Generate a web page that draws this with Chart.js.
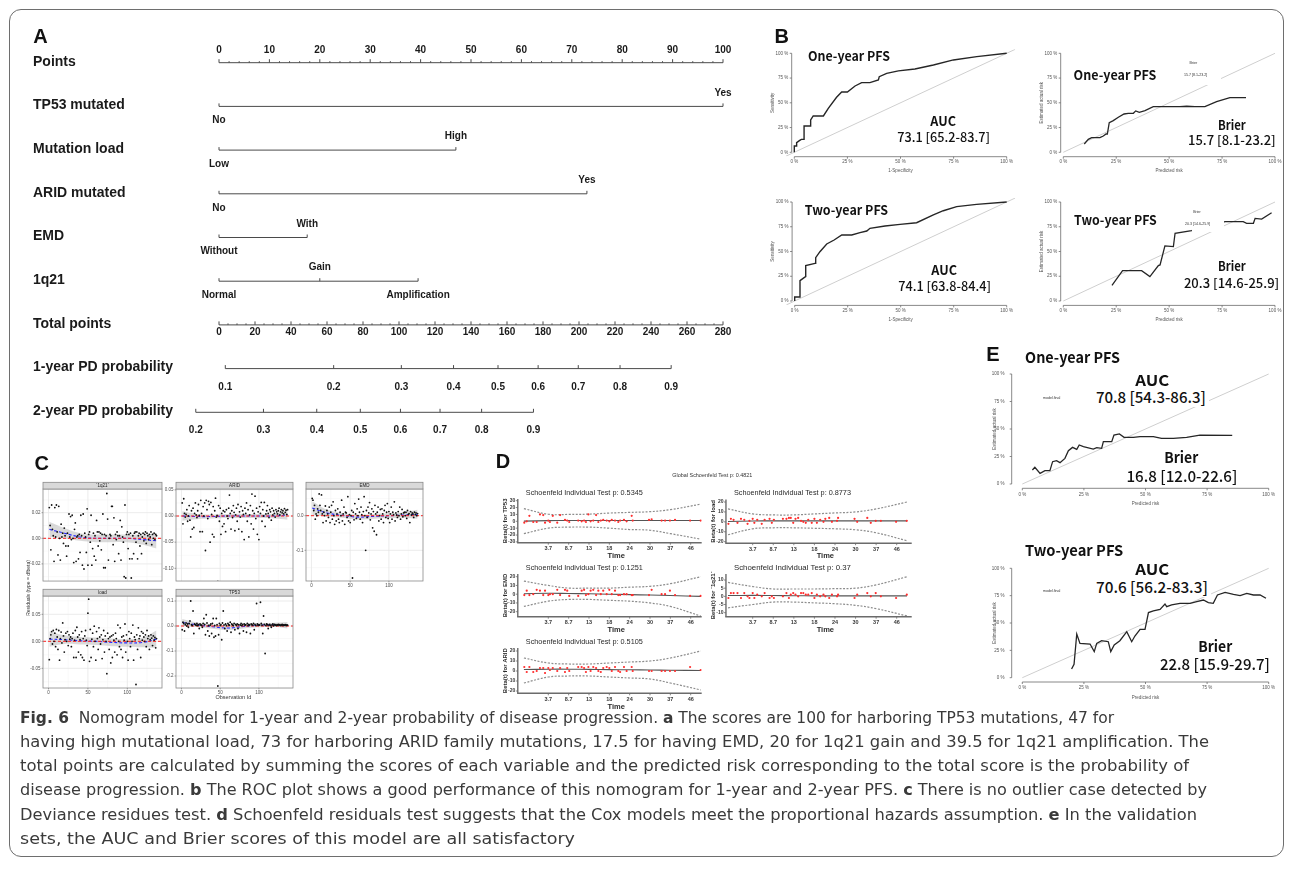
<!DOCTYPE html>
<html><head><meta charset="utf-8"><title>Fig. 6</title>
<script src="https://cdn.jsdelivr.net/npm/chart.js"></script>
<style>
html,body{margin:0;padding:0;background:#fff}
body{position:relative;width:1293px;height:877px;overflow:hidden}
canvas{position:absolute}
#frame{position:absolute;left:9px;top:9px;width:1275px;height:848px;border:1.5px solid #6e6e6e;border-radius:12px;box-sizing:border-box}
.lab{position:absolute;white-space:nowrap;line-height:1}
</style></head><body>
<div id="frame"></div>
<script>
// ================= DATA =================
// ---- Panel A: nomogram ----
const rowNames = ['Points','TP53 mutated','Mutation load','ARID mutated','EMD','1q21','Total points','1-year PD probability','2-year PD probability'];
const pointsTicks = [0,10,20,30,40,50,60,70,80,90,100];
const tp53Levels = ['No','Yes'];                   const tp53Pts = [0,100];
const loadLevels = ['Low','High'];                 const loadPts = [0,47];
const aridLevels = ['No','Yes'];                   const aridPts = [0,73];
const emdLevels  = ['Without','With'];             const emdPts  = [0,17.5];
const q21Levels  = ['Normal','Gain','Amplification']; const q21Pts = [0,20,39.5];
const totalTicks = [0,20,40,60,80,100,120,140,160,180,200,220,240,260,280];
const totalMax = 280;
const pd1Labels = ['0.1','0.2','0.3','0.4','0.5','0.6','0.7','0.8','0.9'];
const pd1Total  = [3.5,63.7,101.3,130.3,155,177.3,199.6,222.8,251.2];
const pd2Labels = ['0.2','0.3','0.4','0.5','0.6','0.7','0.8','0.9'];
const pd2Total  = [-12.9,24.7,54.3,78.5,100.8,122.8,145.9,174.7];

// ---- Panel B: ROC and calibration (percent) ----
const pctTicks = [0,25,50,75,100];
const pctLabels = ['0 %','25 %','50 %','75 %','100 %'];
const roc1FPR = [0,0,1.1,1.1,2.4,3.3,4.6,4.6,7.7,7.7,8.9,13.7,16,19.9,22.3,25,28.6,31.7,35.6,39.6,40,43.5,49,56.8,65.5,74.9,85.9,100];
const roc1TPR = [0,6.4,6.4,9.8,11.8,13.1,13.1,26.6,26.6,32.7,36.7,36.7,44.4,55.6,60.9,60.9,67,70.4,70.4,73.1,76.4,79.8,82.2,84.2,88.2,93.3,96.6,100];
const roc2FPR = [0,0,2.5,2.5,4.6,5.2,5.2,9.6,9.9,11.9,15.1,18.6,22.2,26.9,30.8,34,35.5,42.6,49.7,57.5,65.4,70.1,76.4,85.8,100];
const roc2TPR = [0,4,4,20.5,23.9,24.6,35.7,38,43.8,49.8,57.6,61.6,66.7,66.7,69,70.7,73.4,75.8,77.4,79.1,86.9,91.2,95.3,97.6,100];
const cal1Pred = [9.9,11.8,13.4,17.3,18.9,20.2,20.8,21.7,23.6,26,28.7,30.7,33.1,34.2,35.9,38.6,42.5,47.2,55.1,58.3,62.2,66.9,72.4,78.7,86.3];
const cal1Obs  = [8.4,13.1,14.8,14.8,16.5,18.5,18.5,30,32,35.4,38.7,39.4,39.4,41.8,40.4,42.1,46.1,46.1,46.1,46.5,46.1,46.1,51.2,55.2,55.2];
const cal2Pred = [23,28,37,40.9,44.9,45.7,48,52,52.8,60.6,76.4,85,86.6,89.8,90.6,93.7,98.4];
const cal2Obs  = [15.8,30.6,30.6,24.6,35.7,36.4,55.6,54.9,68.4,71,80.1,80.1,78.5,78.5,83.5,82.8,89.2];
const bTexts = {auc1:'73.1 [65.2-83.7]', brier1:'15.7 [8.1-23.2]', auc2:'74.1 [63.8-84.4]', brier2:'20.3 [14.6-25.9]'};

// ---- Panel E: validation calibration (percent) ----
const ev1Pred = [4.1,5.1,7.2,9.2,11.2,12.3,13.9,15.3,17.3,18.7,20.4,22.1,23.1,24.8,28.8,30.2,32.2,32.9,36.3,37.2,39.4,41.3,45.1,47.8,53.2,56.5,61.3,66.7,72.1,85.2];
const ev1Obs  = [12.7,15.2,9.7,12.1,12.1,20.3,21.2,19.4,23.3,30.3,33.3,31.5,35.5,33.9,31.8,33,32.4,38.5,38.5,44.5,45.5,42.4,42.4,43,43,41.5,41.5,42.4,44.5,44.2];
const ev2Pred = [20,21,22.1,23.4,27.5,29.2,30.2,32.2,34.9,35.9,37.3,39.6,42.4,44.4,45.7,47.8,49.8,51.2,53.2,55.9,57.9,58.6,60.6,64,68.1,70.8,73.5,75.5,77.5,79.2,82.3,85.7,88.4,91.1,93.8,96.5,98.9];
const ev2Obs  = [7.9,12.2,39.9,31.4,30.8,23.8,31.4,33.8,32.9,23.8,29.9,33.8,42.1,32.9,38.1,44.2,44.2,59.5,61,62.5,67.4,64.9,66.5,68,68,69.5,71,68.6,68,75.6,78,76.2,75,77.1,75.6,75.6,72.6];
const eTexts = {auc1:'70.8 [54.3-86.3]', brier1:'16.8 [12.0-22.6]', auc2:'70.6 [56.2-83.3]', brier2:'22.8 [15.9-29.7]'};

// ---- Panel C: dfbeta residuals by observation id ----
const res1q21 = [0.024,0.010,-0.009,0.026,0.007,0.002,-0.018,0.024,0.001,0.026, 0.005,-0.013,0.025,0.000,-0.017,0.011,0.001,0.004,-0.004,0.008, 0.002,-0.006,-0.014,0.004,-0.006,0.019,0.001,0.017,-0.001,0.018, 0.000,-0.019,0.007,0.012,-0.018,0.001,0.002,-0.016,0.003,-0.011, 0.018,0.002,-0.021,0.019,-0.024,0.004,0.001,-0.011,0.023,-0.021, 0.003,0.005,-0.003,0.018,-0.021,-0.008,0.004,-0.014,0.002,-0.017, 0.014,0.005,-0.006,0.005,-0.002,0.004,-0.009,0.003,0.019,-0.023, 0.003,-0.023,0.002,0.035,0.015,-0.017,0.000,0.003,0.002,0.025, 0.025,-0.005,0.016,-0.018,0.003,-0.001,0.005,0.002,-0.012,0.002, 0.014,-0.017,0.009,0.001,-0.003,-0.030,0.026,-0.031,0.003,0.005, -0.008,0.003,-0.016,0.004,-0.031,-0.016,0.002,-0.012,0.004,0.005, -0.003,0.005,-0.016,0.002,0.004,-0.006,0.003,-0.012,0.001,0.004, -0.002,0.003,0.005,-0.004,0.004,0.002,-0.001,0.003,0.001,0.005, -0.005,0.003,0.000,0.004,-0.001,0.003,0.002];
const resARID = [0.025,-0.015,0.033,0.005,-0.002,0.003,0.012,-0.010,0.000,0.020, -0.008,-0.040,0.010,-0.025,0.015,-0.022,0.005,0.025,0.002,-0.003, 0.010,0.022,0.001,-0.030,0.030,0.005,-0.030,0.018,0.000,0.025, -0.066,0.030,0.012,-0.005,0.028,0.022,-0.050,0.026,0.003,-0.035, 0.018,-0.040,0.010,0.034,-0.002,0.001,-0.125,0.020,-0.010,0.015, -0.035,0.005,-0.020,0.010,-0.015,0.008,-0.030,0.012,0.000,-0.005, 0.015,0.040,0.005,-0.025,0.010,-0.003,0.020,0.007,-0.028,0.002, 0.015,-0.010,0.022,-0.025,0.008,-0.002,0.018,-0.030,0.010,0.003, -0.045,0.015,0.005,0.025,-0.010,0.012,-0.040,0.002,0.020,-0.015, 0.042,0.010,-0.025,0.005,0.038,-0.005,0.015,-0.035,0.008,-0.045, 0.018,0.005,0.026,-0.010,0.012,0.000,0.026,-0.020,0.004,0.010, 0.020,0.005,-0.003,0.012,0.008,-0.008,0.015,0.002,0.010,0.005, -0.002,0.012,0.008,0.004,0.010,0.015,0.002,0.008,0.012,0.006, 0.010,0.004,0.014,0.007,0.011,0.003,0.012];
const resEMD = [0.050,0.045,0.015,0.030,-0.010,0.005,0.000,0.020,0.010,0.063, 0.030,0.015,0.060,0.005,-0.020,0.010,0.000,0.028,-0.015,0.015, 0.005,-0.005,0.025,-0.020,0.010,0.030,-0.010,0.040,0.000,-0.025, 0.015,-0.015,0.005,0.020,-0.010,-0.020,0.010,0.000,0.045,-0.015, 0.005,0.025,-0.025,0.010,0.008,-0.005,0.055,-0.015,0.003,-0.020, 0.000,0.015,-0.180,0.010,-0.012,0.035,0.005,-0.008,0.020,0.000, 0.048,0.010,-0.010,0.025,0.003,-0.020,0.012,0.055,0.000,-0.100, 0.015,-0.005,0.025,0.008,0.038,-0.012,0.005,0.020,-0.035,0.012, -0.045,0.030,0.005,-0.055,0.010,0.025,-0.015,0.000,0.018,-0.010, 0.020,0.005,-0.020,0.015,0.030,-0.005,0.010,0.035,-0.008,0.012, -0.020,0.005,0.025,-0.010,0.010,0.003,0.040,-0.015,0.008,0.002, -0.005,0.012,0.000,0.025,-0.010,0.005,0.018,-0.003,0.008,0.010, 0.000,0.010,-0.008,0.015,0.004,0.006,-0.020,0.012,0.002,0.008, 0.005,-0.005,0.010,0.003,0.008,0.000,0.006];
const resLoad = [-0.034,0.005,0.012,0.018,-0.005,0.020,0.000,0.015,-0.010,0.022, 0.008,-0.015,0.020,-0.035,0.005,0.017,-0.003,0.034,0.010,-0.020, 0.003,0.015,0.000,0.018,-0.008,0.012,0.004,0.008,-0.010,0.005, 0.015,-0.030,0.002,0.020,-0.030,0.026,0.008,-0.020,0.012,0.003, -0.025,0.018,-0.030,0.005,-0.035,0.010,0.020,0.002,-0.008,0.052, 0.078,-0.037,0.022,-0.030,0.004,0.015,-0.010,0.028,0.000,-0.035, 0.018,0.005,-0.015,0.025,0.008,-0.005,0.012,-0.032,0.003,0.020, -0.020,0.010,0.000,-0.060,0.015,0.005,-0.015,0.008,-0.040,0.010, -0.030,0.012,0.002,-0.020,0.015,0.005,-0.025,0.030,0.000,-0.010, 0.025,-0.015,0.008,-0.030,0.010,0.002,0.032,-0.020,0.012,0.000, -0.035,0.018,0.005,-0.010,0.015,0.000,0.030,-0.035,0.008,0.003, -0.080,0.012,-0.015,0.025,0.005,0.010,-0.030,0.018,0.002,0.015, 0.008,0.000,0.012,-0.010,0.020,0.005,0.010,-0.015,0.003,0.012, 0.006,-0.008,0.010,0.002,0.007,-0.012,0.005];
const resTP53 = [-0.015,0.015,0.010,-0.020,0.005,0.012,0.000,0.008,-0.005,0.010, 0.020,0.100,0.005,0.002,0.060,-0.030,0.008,0.005,0.003,0.010, 0.002,0.005,-0.010,0.008,0.004,0.003,-0.005,0.010,0.030,0.006, -0.035,0.045,0.012,-0.020,0.002,-0.040,0.003,0.008,-0.030,0.010, 0.030,-0.045,0.002,-0.040,0.030,0.005,-0.240,-0.035,0.010,0.002, 0.005,-0.055,0.012,0.060,0.004,-0.010,0.008,0.002,-0.020,0.010, 0.005,0.003,0.015,-0.025,0.008,0.004,0.002,0.010,-0.015,0.006, 0.003,0.008,-0.010,0.005,-0.030,0.004,0.010,0.002,0.006,-0.020, 0.008,0.003,0.005,-0.025,0.010,0.002,0.006,0.004,-0.030,0.008, 0.005,0.003,0.010,-0.015,0.006,0.002,0.090,0.008,0.003,0.005, 0.004,0.095,0.010,0.003,-0.030,0.040,0.006,-0.110,0.002,0.008, 0.005,-0.010,0.003,0.006,0.002,-0.005,0.004,0.008,0.001,0.006, 0.003,0.005,0.002,0.004,0.006,0.003,0.005,0.002,0.004,0.006, 0.002,0.004,0.003,0.005,0.002,0.004,0.003];
const loessX = [1,20,40,60,80,100,120,137];
const fit1q21 = [0.007,0.004,0.001,0.000,0.000,0.000,-0.001,-0.002];
const lo1q21  = [0.001,0.000,-0.002,-0.003,-0.003,-0.003,-0.005,-0.008];
const hi1q21  = [0.013,0.008,0.004,0.003,0.003,0.003,0.003,0.004];
const fitARID = [0.000,-0.001,-0.001,0.000,0.000,0.000,0.000,0.002];
const loARID  = [-0.009,-0.006,-0.005,-0.004,-0.004,-0.004,-0.005,-0.007];
const hiARID  = [0.009,0.004,0.003,0.004,0.004,0.004,0.005,0.011];
const fitEMD  = [0.022,0.008,0.001,-0.004,-0.002,0.000,0.002,0.004];
const loEMD   = [0.002,-0.002,-0.006,-0.011,-0.009,-0.007,-0.006,-0.009];
const hiEMD   = [0.042,0.018,0.008,0.003,0.005,0.007,0.010,0.017];
const fitLoad = [0.004,0.003,0.001,0.000,-0.002,-0.003,-0.002,0.004];
const loLoad  = [-0.010,-0.005,-0.006,-0.007,-0.009,-0.010,-0.011,-0.012];
const hiLoad  = [0.018,0.011,0.008,0.007,0.005,0.004,0.007,0.020];
const fitTP53 = [0.014,0.005,-0.003,-0.008,-0.002,0.003,0.005,0.003];
const loTP53  = [0.000,-0.004,-0.011,-0.016,-0.010,-0.005,-0.003,-0.010];
const hiTP53  = [0.028,0.014,0.005,0.000,0.006,0.011,0.013,0.016];

// ---- Panel D: Schoenfeld residuals ----
const dTimeIdx = [1,2,3,4,5,6,7,8];
const dTimeLabels = ['3.7','8.7','13','18','24','30','37','46'];
const dEventIdx = [-0.18,-0.06,0.07,0.26,0.43,0.59,0.75,0.84,1.0,1.08,1.22,1.44,1.58,1.82,1.93,2.03,2.47,2.64,2.76,2.85,2.97,3.08,3.21,3.35,3.46,3.58,3.7,3.87,4.0,4.12,4.28,4.44,4.53,4.72,4.85,5.1,5.15,5.95,6.08,6.57,6.74,6.98,7.23,7.97,8.49];
const schTP53 = [-2,0,8,-1,-1,10,9,-2,1,-1, 8,-2,9,2,1,-1,1,0,1,-1, 10,0,1,9,-1,1,2,1,0,2, 1,-1,1,2,0,8,1,2,3,1, 1,1,2,1,1];
const schLoad = [-2,3,2,-1,3,2,-2,1,3,-1, 2,-2,2,3,-1,2,3,3,4,4, -1,3,4,1,0,-1,2,-1,3,-1, 2,0,3,4,0,1,4,3,0,4, -1,1,1,0,1];
const schEMD  = [-1,4,-1,0,5,4,-1,4,-1,0, 0,5,-1,5,4,-2,-2,4,5,-1, 0,4,5,-1,4,0,4,0,5,0, 4,-1,-1,0,0,-1,-1,-1,5,0, 0,4,-1,-2,-2];
const sch1q21 = [-1,2,2,2,-1,2,0,-1,2,-1, 1,0,2,-1,0,-1,0,2,-1,1, 2,1,0,2,2,1,1,2,-1,1, 0,1,0,-1,1,0,1,-1,1,2, 0,2,0,-1,1];
const schARID = [4,-1,4,-1,0,3,3,-2,3,1, 3,0,3,-1,3,0,4,4,3,-1, 4,0,4,3,0,-1,3,4,3,0, 4,0,-1,4,0,4,0,0,0,0, 0,0,0,4,1];
const dBandIdx = [-0.2,1,2,3,4,5,6,7,8.5];
const bTP53up = [18.4,10.3,10,10.5,12,13,14,17,25],  bTP53lo = [-18,-10,-8.5,-8.5,-10,-12,-13,-18,-26],  bTP53fit = [0.3,1,1.2,1.2,1.2,1.2,1.2,1.2,1.2];
const bLoadUp = [13,8,7,7,8,9,10,13,20],           bLoadLo = [-13,-7,-6,-6,-6.5,-7,-8,-11,-19],        bLoadFit = [0.3,0.8,1,1,1,1,1,1,1];
const bEMDup  = [15,10,7,7,7,8,9,12,20],           bEMDlo  = [-14,-8,-6,-6,-7,-8,-10,-14,-25],         bEMDfit  = [0.5,1,0.8,0.5,0,-0.5,-1,-1.5,-2.5];
const b1q21up = [8.5,6,4.5,4.5,4.5,4.7,5,7,12],    b1q21lo = [-7,-5,-3.5,-3.5,-4,-4.5,-5.5,-7.5,-12],  b1q21fit = [0.5,0.6,0.5,0.4,0.3,0.3,0.3,0.3,0.3];
const bARIDup = [13,8,7,7,8,9,10,13,20],           bARIDlo = [-12,-6,-5,-5,-6,-7,-8,-12,-19],          bARIDfit = [1.5,1.8,1.8,1.6,1.4,1.2,1,0.8,0.5];
const dPvals = {TP53:'0.5345', load:'0.8773', EMD:'0.1251', q21:'0.37', ARID:'0.5105', global:'0.4821'};

// ================= HELPERS =================
const SANS = '"Liberation Sans", Arial, Helvetica, sans-serif';
const CJK = '"Noto Sans CJK SC", "Noto Sans", sans-serif';
const xy = (xs, ys) => xs.map((x, i) => ({x: x, y: ys[i]}));
const L_ = (pts, color, w, dash, extra) => Object.assign({data: pts, showLine: true, pointRadius: 0, borderColor: color, borderWidth: w, borderDash: dash || [], fill: false, tension: 0}, extra || {});
const P_ = (pts, color, r) => ({data: pts, showLine: false, pointRadius: r, pointBackgroundColor: color, pointBorderWidth: 0, borderColor: color, backgroundColor: color});

function ctext(ctx, s, x, y, font, color, align, base, rot, w) {
  ctx.save(); ctx.font = font; ctx.fillStyle = color || '#000';
  ctx.textAlign = align || 'center'; ctx.textBaseline = base || 'middle';
  ctx.translate(x, y); if (rot) ctx.rotate(rot);
  if (w) { const m = ctx.measureText(s).width; if (m > 0) ctx.scale(w / m, 1); }
  ctx.fillText(s, 0, 0); ctx.restore();
}
function seg(ctx, x1, y1, x2, y2) { ctx.beginPath(); ctx.moveTo(x1, y1); ctx.lineTo(x2, y2); ctx.stroke(); }

function mk(box, xm, ym, datasets, hooks) {
  const c = document.createElement('canvas');
  c.width = box[2]; c.height = box[3];
  c.style.left = box[0] + 'px'; c.style.top = box[1] + 'px';
  c.style.width = box[2] + 'px'; c.style.height = box[3] + 'px';
  document.body.appendChild(c);
  const kx = (xm.p1 - xm.p0) / (xm.v1 - xm.v0), ky = (ym.p1 - ym.p0) / (ym.v1 - ym.v0);
  const L = xm.p0 + (xm.min - xm.v0) * kx, R = xm.p0 + (xm.max - xm.v0) * kx;
  const rev = ky > 0;
  const T = ym.p0 + ((rev ? ym.min : ym.max) - ym.v0) * ky, B = ym.p0 + ((rev ? ym.max : ym.min) - ym.v0) * ky;
  const pad = {left: L - box[0], right: box[0] + box[2] - R, top: T - box[1], bottom: box[1] + box[3] - B};
  const call = (name) => function (ch) {
    if (!hooks || !hooks[name]) return;
    const X = v => ch.scales.x.getPixelForValue(v), Y = v => ch.scales.y.getPixelForValue(v);
    const ctx = ch.ctx; ctx.save(); hooks[name](ch, ctx, X, Y); ctx.restore();
  };
  return new Chart(c, {
    type: 'scatter', data: {datasets: datasets},
    options: {
      responsive: false, maintainAspectRatio: false, animation: false, devicePixelRatio: 1, events: [],
      layout: {padding: pad},
      scales: {x: {type: 'linear', display: false, min: xm.min, max: xm.max},
               y: {type: 'linear', display: false, min: ym.min, max: ym.max, reverse: rev}},
      plugins: {legend: {display: false}, tooltip: {enabled: false}}
    },
    plugins: [{id: 'deco', beforeDatasetsDraw: call('before'), afterDatasetsDraw: call('after')}]
  });
}

function lab(html, x, y, o) {
  const d = document.createElement('div'); d.className = 'lab'; d.innerHTML = html;
  d.style.font = o.font; d.style.color = o.color || '#111';
  if (o.bg) { d.style.background = o.bg; d.style.padding = '0 3px'; }
  document.body.appendChild(d);
  const r = d.getBoundingClientRect();
  const sx = o.w ? o.w / r.width : 1;
  if (o.anchor === 'l') { d.style.left = x + 'px'; d.style.transformOrigin = '0 50%'; }
  else { d.style.left = (x - r.width / 2) + 'px'; d.style.transformOrigin = '50% 50%'; }
  d.style.top = (y - r.height / 2 + (o.dy || 0)) + 'px';
  d.style.transform = 'scaleX(' + sx + ')';
  return d;
}

// ================= PANEL A =================
const nomoVars = [
  {row: 1, levels: tp53Levels, pts: tp53Pts},
  {row: 2, levels: loadLevels, pts: loadPts},
  {row: 3, levels: aridLevels, pts: aridPts},
  {row: 4, levels: emdLevels, pts: emdPts},
  {row: 5, levels: q21Levels, pts: q21Pts}
];
const ptsMax = pointsTicks[pointsTicks.length - 1];
const tot2pts = t => t * ptsMax / totalMax;
const span = (xs, row) => [{x: Math.min(...xs), y: row}, {x: Math.max(...xs), y: row}];
const NOMO_C = '#4a4a4a';
const nomoSets = [
  L_(span(pointsTicks, 0), NOMO_C, 1),
  ...nomoVars.map(v => L_(span(v.pts, v.row), NOMO_C, 1)),
  L_(span(totalTicks.map(tot2pts), 6), NOMO_C, 1),
  L_(span(pd1Total.map(tot2pts), 7), NOMO_C, 1),
  L_(span(pd2Total.map(tot2pts), 8), NOMO_C, 1)
];
mk([0, 0, 760, 440], {v0: 0, p0: 219, v1: 100, p1: 723, min: -10, max: 105},
   {v0: 0, p0: 62.7, v1: 8, p1: 412.3, min: -0.5, max: 8.5}, nomoSets, {
  after(ch, ctx, X, Y) {
    ctx.strokeStyle = NOMO_C; ctx.lineWidth = 1;
    const TF = 'bold 10px ' + SANS, LF = 'bold 14px ' + SANS, TC = '#1a1a1a';
    rowNames.forEach((n, i) => ctext(ctx, n, 33, Y(i) - 1, LF, TC, 'left'));
    for (let v = pointsTicks[0]; v <= ptsMax; v += 2) {
      const major = pointsTicks.includes(v);
      seg(ctx, X(v), Y(0), X(v), Y(0) - (major ? 3.5 : 1.5));
    }
    pointsTicks.forEach(v => ctext(ctx, String(v), X(v), Y(0) - 12.5, TF, TC));
    nomoVars.forEach(vr => {
      vr.pts.forEach((p, i) => {
        seg(ctx, X(p), Y(vr.row), X(p), Y(vr.row) - 3);
        const above = i % 2 === 1;
        ctext(ctx, vr.levels[i], X(p), Y(vr.row) + (above ? -13.5 : 14), TF, TC);
      });
    });
    for (let t = 0; t <= totalMax; t += 5) {
      const major = totalTicks.includes(t);
      seg(ctx, X(tot2pts(t)), Y(6), X(tot2pts(t)), Y(6) - (major ? 3.5 : 1.5));
    }
    totalTicks.forEach(t => ctext(ctx, String(t), X(tot2pts(t)), Y(6) + 7, TF, TC));
    pd1Total.forEach((t, i) => { seg(ctx, X(tot2pts(t)), Y(7), X(tot2pts(t)), Y(7) - 3.5); ctext(ctx, pd1Labels[i], X(tot2pts(t)), Y(7) + 18.5, TF, TC); });
    pd2Total.forEach((t, i) => { seg(ctx, X(tot2pts(t)), Y(8), X(tot2pts(t)), Y(8) - 3.5); ctext(ctx, pd2Labels[i], X(tot2pts(t)), Y(8) + 17.7, TF, TC); });
  }
});

// ================= PANELS B & E =================
function rAxes(ctx, X, Y, o) {
  const ax = X(0) - o.yOff, ay = Y(0) + o.xOff;
  const F = o.fs + 'px ' + SANS;
  ctx.strokeStyle = '#6a6a6a'; ctx.lineWidth = 0.8;
  seg(ctx, ax, Y(0), ax, Y(100)); seg(ctx, X(0), ay, X(100), ay);
  pctTicks.forEach((v, i) => {
    seg(ctx, ax, Y(v), ax - 2, Y(v)); seg(ctx, X(v), ay, X(v), ay + 2);
    ctext(ctx, pctLabels[i], ax - o.ylGap, Y(v), F, '#555', 'right');
    ctext(ctx, pctLabels[i], X(v), ay + o.xlGap, F, '#555');
  });
  ctext(ctx, o.yt, ax - o.ytGap, Y(50), F, '#555', 'center', 'middle', -Math.PI / 2);
  ctext(ctx, o.xt, X(50), ay + o.xtGap, F, '#555');
}
const bAx = {yOff: 2.6, xOff: 4.4, fs: 4.5, ylGap: 3.5, xlGap: 5.5, ytGap: 19, xtGap: 14.5};
const eAx = {yOff: 10.6, xOff: 4.3, fs: 4.5, ylGap: 7.2, xlGap: 6, ytGap: 16.7, xtGap: 15.7};
const DIAG = '#cfcfcf', CURVE = '#262626';
function legendBox(ctx, x0, y0, x1, y1, lines) {
  ctx.fillStyle = '#fff'; ctx.fillRect(x0, y0, x1 - x0, y1 - y0);
  lines.forEach(l => ctext(ctx, l[0], l[1], l[2], '3.6px ' + SANS, '#333'));
}
mk([765, 40, 255, 140], {v0: 0, p0: 794.3, v1: 100, p1: 1006.7, min: -4, max: 104},
   {v0: 0, p0: 152.3, v1: 100, p1: 53.3, min: -4, max: 104},
   [L_(xy(roc1FPR, roc1TPR), CURVE, 1.4), L_([{x: -4, y: -4}, {x: 104, y: 104}], DIAG, 1)],
   {before(ch, ctx, X, Y) { rAxes(ctx, X, Y, Object.assign({yt: 'Sensitivity', xt: '1-Specificity'}, bAx)); }});
mk([1030, 40, 255, 140], {v0: 0, p0: 1063.3, v1: 100, p1: 1275, min: -4, max: 104},
   {v0: 0, p0: 152.3, v1: 100, p1: 53.3, min: -4, max: 104},
   [L_(xy(cal1Pred, cal1Obs), CURVE, 1.3), L_([{x: 0, y: 0}, {x: 100, y: 100}], DIAG, 1)],
   {before(ch, ctx, X, Y) { rAxes(ctx, X, Y, Object.assign({yt: 'Estimated actual risk', xt: 'Predicted risk'}, bAx)); },
    after(ch, ctx, X, Y) { legendBox(ctx, 1180 - 1030, 57 - 40, 1221 - 1030, 85 - 40, [['Brier', 1193.3 - 1030, 62.7 - 40], [bTexts.brier1, 1195.7 - 1030, 75.3 - 40]]); }});
mk([765, 190, 255, 140], {v0: 0, p0: 794.7, v1: 100, p1: 1006.7, min: -4, max: 104},
   {v0: 0, p0: 301, v1: 100, p1: 202, min: -4, max: 104},
   [L_(xy(roc2FPR, roc2TPR), CURVE, 1.4), L_([{x: -4, y: -4}, {x: 104, y: 104}], DIAG, 1)],
   {before(ch, ctx, X, Y) { rAxes(ctx, X, Y, Object.assign({yt: 'Sensitivity', xt: '1-Specificity'}, bAx)); }});
mk([1030, 190, 255, 140], {v0: 0, p0: 1063.3, v1: 100, p1: 1275, min: -4, max: 104},
   {v0: 0, p0: 301, v1: 100, p1: 202, min: -4, max: 104},
   [L_(xy(cal2Pred, cal2Obs), CURVE, 1.3), L_([{x: 0, y: 0}, {x: 100, y: 100}], DIAG, 1)],
   {before(ch, ctx, X, Y) { rAxes(ctx, X, Y, Object.assign({yt: 'Estimated actual risk', xt: 'Predicted risk'}, bAx)); },
    after(ch, ctx, X, Y) { legendBox(ctx, 1192 - 1030, 205 - 190, 1224 - 1030, 232 - 190, [['Brier', 1197 - 1030, 212 - 190], [bTexts.brier2, 1197.7 - 1030, 224 - 190]]); }});
mk([985, 365, 295, 145], {v0: 0, p0: 1022.3, v1: 100, p1: 1268.7, min: -4, max: 104},
   {v0: 0, p0: 484, v1: 100, p1: 374, min: -4, max: 104},
   [L_(xy(ev1Pred, ev1Obs), CURVE, 1.3), L_([{x: 0, y: 0}, {x: 100, y: 100}], DIAG, 1)],
   {before(ch, ctx, X, Y) { rAxes(ctx, X, Y, Object.assign({yt: 'Estimated actual risk', xt: 'Predicted risk'}, eAx)); },
    after(ch, ctx, X, Y) { ctext(ctx, 'model.final', 1051.7 - 985, 398.3 - 365, '3.6px ' + SANS, '#333'); }});
mk([985, 560, 295, 145], {v0: 0, p0: 1022.3, v1: 100, p1: 1268.7, min: -4, max: 104},
   {v0: 0, p0: 677.7, v1: 100, p1: 568.3, min: -4, max: 104},
   [L_(xy(ev2Pred, ev2Obs), CURVE, 1.3), L_([{x: 0, y: 0}, {x: 100, y: 100}], DIAG, 1)],
   {before(ch, ctx, X, Y) { rAxes(ctx, X, Y, Object.assign({yt: 'Estimated actual risk', xt: 'Predicted risk'}, eAx)); },
    after(ch, ctx, X, Y) { ctext(ctx, 'model.final', 1051.7 - 985, 591 - 560, '3.6px ' + SANS, '#333'); }});

// ================= PANEL C =================
const obs = arr => arr.map((v, i) => ({x: i + 1, y: v}));
const cX = {min: -7, max: 144, ticks: [0, 50, 100], minor: [25, 75, 125]};
function facet(cfg) {
  const a = cfg.area;
  const box = [a[0] - 24, a[1] - 9, (a[2] - a[0]) + 28, (a[3] - a[1]) + 22];
  mk(box, {v0: cX.min, p0: a[0], v1: cX.max, p1: a[2], min: cX.min, max: cX.max},
     {v0: cfg.y0[0], p0: cfg.y0[1], v1: cfg.y1[0], p1: cfg.y1[1], min: cfg.yr[0], max: cfg.yr[1]},
     [P_(obs(cfg.res), '#111', 0.9),
      L_([{x: cX.min, y: 0}, {x: cX.max, y: 0}], '#ff2020', 1, [3, 2]),
      L_(xy(loessX, cfg.fit), '#2b2bff', 1.1, [3, 2], {tension: 0.4}),
      L_(xy(loessX, cfg.hi), 'rgba(0,0,0,0)', 0, [], {tension: 0.4, fill: '+1', backgroundColor: 'rgba(150,150,150,0.35)'}),
      L_(xy(loessX, cfg.lo), 'rgba(0,0,0,0)', 0, [], {tension: 0.4})],
     {before(ch, ctx, X, Y) {
        const A = ch.chartArea;
        ctx.strokeStyle = '#f3f3f3'; ctx.lineWidth = 0.5;
        cfg.ym.forEach(v => seg(ctx, A.left, Y(v), A.right, Y(v)));
        cX.minor.forEach(v => seg(ctx, X(v), A.top, X(v), A.bottom));
        ctx.strokeStyle = '#e6e6e6'; ctx.lineWidth = 0.8;
        cfg.yt.forEach(v => seg(ctx, A.left, Y(v), A.right, Y(v)));
        cX.ticks.forEach(v => seg(ctx, X(v), A.top, X(v), A.bottom));
      },
      after(ch, ctx, X, Y) {
        const A = ch.chartArea, F = '4.5px ' + SANS;
        ctx.strokeStyle = '#8a8a8a'; ctx.lineWidth = 0.8;
        ctx.strokeRect(A.left, A.top, A.right - A.left, A.bottom - A.top);
        ctx.fillStyle = '#d9d9d9'; ctx.fillRect(A.left, A.top - 6.7, A.right - A.left, 6.7);
        ctx.strokeRect(A.left, A.top - 6.7, A.right - A.left, 6.7);
        ctext(ctx, cfg.strip, (A.left + A.right) / 2, A.top - 3.3, F, '#1a1a1a');
        ctx.strokeStyle = '#555'; ctx.lineWidth = 0.5;
        cfg.yt.forEach((v, i) => { seg(ctx, A.left - 1.5, Y(v), A.left, Y(v)); ctext(ctx, cfg.yl[i], A.left - 2.5, Y(v), F, '#4d4d4d', 'right'); });
        if (cfg.showX) cX.ticks.forEach(v => { seg(ctx, X(v), A.bottom, X(v), A.bottom + 1.5); ctext(ctx, String(v), X(v), A.bottom + 4.5, F, '#4d4d4d'); });
      }});
}
facet({strip: '`1q21`', res: res1q21, fit: fit1q21, lo: lo1q21, hi: hi1q21, area: [43.3, 489, 162.3, 581],
       y0: [0, 538.3], y1: [0.02, 512.7], yr: [-0.0334, 0.0385], yt: [-0.02, 0, 0.02], yl: ['-0.02', '0.00', '0.02'], ym: [-0.03, -0.01, 0.01, 0.03], showX: false});
facet({strip: 'ARID', res: resARID, fit: fitARID, lo: loARID, hi: hiARID, area: [175.7, 489, 293.3, 581],
       y0: [0, 516], y1: [-0.1, 568.3], yr: [-0.1243, 0.0516], yt: [-0.1, -0.05, 0, 0.05], yl: ['-0.10', '-0.05', '0.00', '0.05'], ym: [-0.125, -0.075, -0.025, 0.025], showX: false});
facet({strip: 'EMD', res: resEMD, fit: fitEMD, lo: loEMD, hi: hiEMD, area: [305.7, 489, 423.3, 581],
       y0: [0, 515.7], y1: [-0.1, 550.3], yr: [-0.1887, 0.0772], yt: [-0.1, 0], yl: ['-0.1', '0.0'], ym: [-0.15, -0.05, 0.05], showX: true});
facet({strip: 'load', res: resLoad, fit: fitLoad, lo: loLoad, hi: hiLoad, area: [43.3, 595.7, 162.3, 687.7],
       y0: [0, 641], y1: [0.05, 614], yr: [-0.0865, 0.0839], yt: [-0.05, 0, 0.05], yl: ['-0.05', '0.00', '0.05'], ym: [-0.075, -0.025, 0.025, 0.075], showX: true});
facet({strip: 'TP53', res: resTP53, fit: fitTP53, lo: loTP53, hi: hiTP53, area: [175.7, 595.7, 293.3, 687.7],
       y0: [0, 625.7], y1: [0.1, 600.7], yr: [-0.248, 0.12], yt: [-0.2, -0.1, 0, 0.1], yl: ['-0.2', '-0.1', '0.0', '0.1'], ym: [-0.25, -0.15, -0.05, 0.05], showX: true});

// ================= PANEL D =================
const dX1 = {v0: 1, p0: 548.3, v1: 8, p1: 690.7, min: -0.5, max: 8.54};
const dX2 = {v0: 1, p0: 752.7, v1: 8, p1: 896.7, min: -0.3, max: 8.73};
function schoen(box, xm, ym, res, up, lo, fit, yt, title, ylab) {
  mk(box, xm, ym, [
    P_(xy(dEventIdx, res), '#ff2e2e', 1.1),
    L_(xy(dBandIdx, fit), '#555', 1.1, [], {tension: 0.4}),
    L_(xy(dBandIdx, up), '#8d8d8d', 1.2, [2, 1.5], {tension: 0.4}),
    L_(xy(dBandIdx, lo), '#8d8d8d', 1.2, [2, 1.5], {tension: 0.4})
  ], {after(ch, ctx, X, Y) {
    const A = ch.chartArea, FY = 'bold 5px ' + SANS, FX = 'bold 5.5px ' + SANS;
    ctx.strokeStyle = '#6b6b6b'; ctx.lineWidth = 1.4;
    seg(ctx, A.left, A.top, A.left, A.bottom); seg(ctx, A.left - 0.7, A.bottom, A.right, A.bottom);
    ctx.lineWidth = 0.8;
    yt.forEach(v => { seg(ctx, A.left - 2, Y(v), A.left, Y(v)); ctext(ctx, String(v), A.left - 2.5, Y(v), FY, '#3a3a3a', 'right'); });
    dTimeIdx.forEach((t, i) => { seg(ctx, X(t), A.bottom, X(t), A.bottom + 2); ctext(ctx, dTimeLabels[i], X(t), A.bottom + 5.8, FX, '#3a3a3a'); });
    ctext(ctx, 'Time', (A.left + A.right) / 2 + 6.5, A.bottom + 13.2, 'bold 7.5px ' + SANS, '#2a2a2a');
    ctext(ctx, ylab, A.left - 12.5, (A.top + A.bottom) / 2, 'bold 6px ' + SANS, '#2a2a2a', 'center', 'middle', -Math.PI / 2);
    ctext(ctx, title, A.left + 8, A.top - 6.5, '7.5px ' + SANS, '#2a2a2a', 'left', 'middle', 0, 117);
  }});
}
schoen([490, 485, 220, 76], dX1, {v0: 0, p0: 521.3, v1: 30, p1: 500.7, min: -31.2, max: 32.5}, schTP53, bTP53up, bTP53lo, bTP53fit,
       [-30, -20, -10, 0, 10, 20, 30], 'Schoenfeld Individual Test p: ' + dPvals.TP53, 'Beta(t) for TP53');
schoen([698, 485, 220, 76], dX2, {v0: 0, p0: 521.85, v1: 20, p1: 502, min: -21.5, max: 22.5}, schLoad, bLoadUp, bLoadLo, bLoadFit,
       [-20, -10, 0, 10, 20], 'Schoenfeld Individual Test p: ' + dPvals.load, 'Beta(t) for load');
schoen([490, 560, 220, 76], dX1, {v0: 0, p0: 594.2, v1: 20, p1: 576.7, min: -25.7, max: 23}, schEMD, bEMDup, bEMDlo, bEMDfit,
       [-20, -10, 0, 10, 20], 'Schoenfeld Individual Test p: ' + dPvals.EMD, 'Beta(t) for EMD');
schoen([698, 560, 220, 76], dX2, {v0: 0, p0: 596.35, v1: 10, p1: 580, min: -12.45, max: 13.7}, sch1q21, b1q21up, b1q21lo, b1q21fit,
       [-10, -5, 0, 5, 10], 'Schoenfeld Individual Test p: ' + dPvals.q21, 'Beta(t) for `1q21`');
schoen([490, 635, 220, 78], dX1, {v0: 0, p0: 671, v1: 20, p1: 651, min: -22.3, max: 23}, schARID, bARIDup, bARIDlo, bARIDfit,
       [-20, -10, 0, 10, 20], 'Schoenfeld Individual Test p: ' + dPvals.ARID, 'Beta(t) for ARID');

// ================= OVERLAY SMALL TEXT =================
(function () {
  const c = document.createElement('canvas'); c.width = 1293; c.height = 877;
  c.style.left = '0px'; c.style.top = '0px'; document.body.appendChild(c);
  const ctx = c.getContext('2d');
  ctext(ctx, 'Residuals (type = dfbeta)', 28.3, 588, '5px ' + SANS, '#333', 'center', 'middle', -Math.PI / 2);
  ctext(ctx, 'Observation Id', 233.3, 697.3, '5.5px ' + SANS, '#333');
  ctext(ctx, 'Global Schoenfeld Test p: ' + dPvals.global, 712.3, 475.7, '5.5px ' + SANS, '#333', 'center', 'middle', 0, 80);
})();

// ================= HTML LABELS =================
const PL = 'bold 20px ' + SANS;
lab('A', 40.5, 36.7, {font: PL});
lab('B', 781.7, 36.7, {font: PL});
lab('C', 41.7, 463.3, {font: PL});
lab('D', 503, 461.7, {font: PL});
lab('E', 993, 354, {font: PL});
const T13 = 'bold 13px ' + CJK, V13 = '500 13px ' + CJK, T15 = 'bold 15px ' + CJK;
lab('One-year PFS', 849, 55, {font: T13, w: 82});
lab('One-year PFS', 1115.3, 74, {font: T13, w: 82.7});
lab('Two-year PFS', 846.7, 209.3, {font: T13, w: 83.3});
lab('Two-year PFS', 1115.3, 219.3, {font: T13, w: 82.7});
lab('AUC', 943.5, 120, {font: T13, w: 25.7});
lab(bTexts.auc1, 943.7, 136, {font: V13, w: 92.7});
lab('Brier', 1232, 124, {font: T13, w: 27.7});
lab(bTexts.brier1, 1232.2, 139.3, {font: V13, w: 87.7});
lab('AUC', 944.3, 269.3, {font: T13, w: 25.7});
lab(bTexts.auc2, 944.3, 285.7, {font: V13, w: 92.7});
lab('Brier', 1231.7, 265.7, {font: T13, w: 27.7});
lab(bTexts.brier2, 1231.7, 282.3, {font: V13, w: 95.3});
lab('One-year PFS', 1072.5, 356, {font: T15, w: 95});
lab('Two-year PFS', 1074, 549.3, {font: T15, w: 98.3});
const E15 = 'bold 15px ' + CJK, EV = '500 15px ' + CJK;
lab(eTexts.auc1, 1151.3, 396.7, {font: EV, w: 116, bg: '#fff'});
lab('AUC', 1152, 379.3, {font: E15, w: 34});
lab('Brier', 1181.7, 456.7, {font: E15, w: 34});
lab(eTexts.brier1, 1182.2, 475.7, {font: EV, w: 111});
lab(eTexts.auc2, 1152, 586, {font: EV, w: 118, bg: '#fff'});
lab('AUC', 1152, 568.3, {font: E15, w: 34});
lab('Brier', 1215, 645, {font: E15, w: 34});
lab(eTexts.brier2, 1215, 663.3, {font: EV, w: 110});

// ================= CAPTION =================
const capFont = '16px "Liberation Sans Narrow", "DejaVu Sans Condensed", "Liberation Sans", sans-serif';
const capLines = [
  ['<b>Fig. 6</b>&nbsp; Nomogram model for 1-year and 2-year probability of disease progression. <b>a</b> The scores are 100 for harboring TP53 mutations, 47 for', 717, 1094],
  ['having high mutational load, 73 for harboring ARID family mutations, 17.5 for having EMD, 20 for 1q21 gain and 39.5 for 1q21 amplification. The', 741.3, 1189],
  ['total points are calculated by summing the scores of each variable and the predicted risk corresponding to the total score is the probability of', 765.6, 1169],
  ['disease progression. <b>b</b> The ROC plot shows a good performance of this nomogram for 1-year and 2-year PFS. <b>c</b> There is no outlier case detected by', 789.9, 1187],
  ['Deviance residues test. <b>d</b> Schoenfeld residuals test suggests that the Cox models meet the proportional hazards assumption. <b>e</b> In the validation', 814.2, 1177],
  ['sets, the AUC and Brier scores of this model are all satisfactory', 838.5, 555]
];
capLines.forEach(l => lab(l[0], 20, l[1], {font: capFont, color: '#3a3a3a', anchor: 'l', w: l[2]}));
</script>
</body></html>
